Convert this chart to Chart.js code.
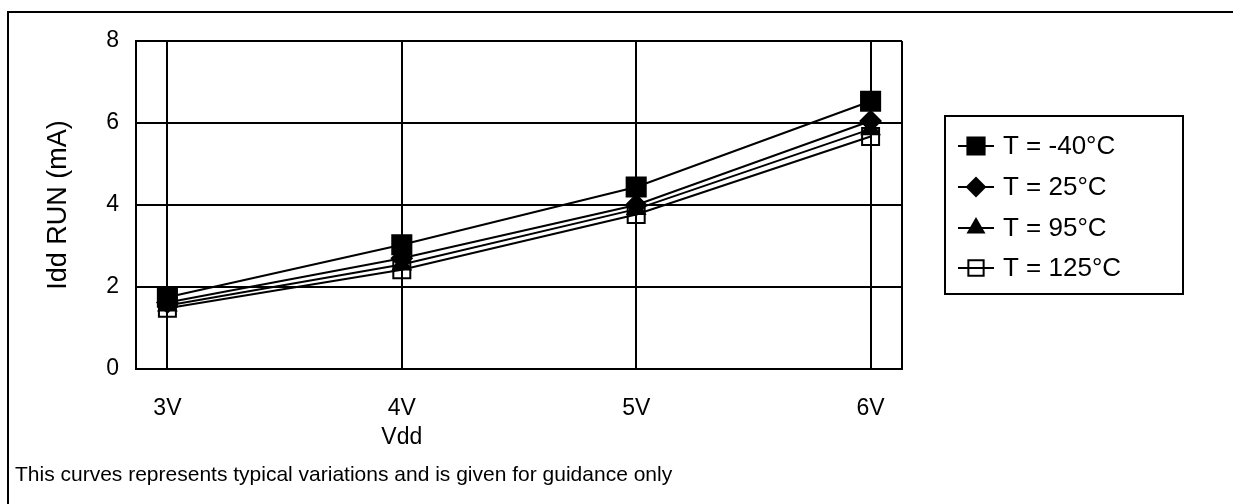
<!DOCTYPE html>
<html>
<head>
<meta charset="utf-8">
<script src="https://cdn.jsdelivr.net/npm/chart.js@4"></script>
<style>
  html, body { margin: 0; padding: 0; background: #fff; }
  #wrap { width: 1233px; height: 504px; }
</style>
</head>
<body>
<div id="wrap"><canvas id="c" width="1233" height="504"></canvas></div>
<script>
// Supply voltage categories and run current (mA) per temperature
const vdd = [3, 4, 5, 6];
const vddLabels = ['3V', '4V', '5V', '6V'];
const tempLabels = ['T = -40°C', 'T = 25°C', 'T = 95°C', 'T = 125°C'];
const iddM40 = [1.75, 3.03, 4.44, 6.53];
const idd25 = [1.62, 2.70, 4.00, 6.05];
const idd95 = [1.55, 2.55, 3.90, 5.85];
const idd125 = [1.48, 2.42, 3.77, 5.67];
const yTicks = [0, 2, 4, 6, 8];

const FONT = '"Liberation Sans", Arial, Helvetica, sans-serif';
const X_MIN = 2.866, X_MAX = 6.134;

function pts(vals) { return vdd.map((v, i) => ({ x: v, y: vals[i] })); }

const styles = [
  { pointStyle: 'rect', radius: 13.5, fill: '#000' },
  { pointStyle: 'rectRot', radius: 10, fill: '#000' },
  { pointStyle: 'triangle', radius: 10, fill: '#000' },
  { pointStyle: 'rect', radius: 12, fill: 'rgba(0,0,0,0)' }
];
const seriesVals = [iddM40, idd25, idd95, idd125];

const datasets = seriesVals.map((vals, i) => ({
  label: tempLabels[i],
  data: pts(vals),
  borderColor: '#000',
  borderWidth: 2,
  pointStyle: styles[i].pointStyle,
  pointRadius: styles[i].radius,
  pointBackgroundColor: styles[i].fill,
  pointBorderColor: '#000',
  pointBorderWidth: 2,
  tension: 0
}));

// Frame, axis caption, note and boxed legend
const decor = {
  id: 'decor',
  beforeDraw(chart) {
    const ctx = chart.ctx;
    ctx.save();
    ctx.fillStyle = '#fff';
    ctx.fillRect(0, 0, chart.width, chart.height);
    ctx.strokeStyle = '#000';
    ctx.lineWidth = 2;
    ctx.beginPath();
    ctx.moveTo(8, 504);
    ctx.lineTo(8, 12);
    ctx.lineTo(1233, 12);
    ctx.stroke();
    ctx.restore();
  },
  afterDraw(chart) {
    const ctx = chart.ctx;
    ctx.save();
    ctx.fillStyle = '#000';
    ctx.textBaseline = 'middle';
    ctx.font = '23px ' + FONT;
    ctx.textAlign = 'center';
    ctx.fillText('Vdd', chart.scales.x.getPixelForValue(4), 438);
    ctx.font = '21px ' + FONT;
    ctx.textAlign = 'left';
    ctx.fillText('This curves represents typical variations and is given for guidance only', 15, 475);

    // legend box
    const bx = 945, by = 116, bw = 238, bh = 178;
    ctx.lineWidth = 2;
    ctx.strokeStyle = '#000';
    ctx.strokeRect(bx, by, bw, bh);
    const rows = [146, 187, 228, 268];
    const drawPoint = Chart.helpers && Chart.helpers.drawPoint;
    chart.data.datasets.forEach((ds, i) => {
      const y = rows[i];
      ctx.beginPath();
      ctx.moveTo(958, y);
      ctx.lineTo(994, y);
      ctx.lineWidth = 2;
      ctx.stroke();
      if (drawPoint) {
        ctx.fillStyle = ds.pointBackgroundColor;
        ctx.strokeStyle = '#000';
        ctx.lineWidth = 2;
        drawPoint(ctx, { pointStyle: ds.pointStyle, radius: ds.pointRadius * 0.9, rotation: 0, borderWidth: 2 }, 976, y);
      }
      ctx.fillStyle = '#000';
      ctx.font = '26px ' + FONT;
      ctx.textAlign = 'left';
      ctx.fillText(ds.label, 1003, y + 1);
    });
    ctx.restore();
  }
};

new Chart(document.getElementById('c'), {
  type: 'line',
  data: { datasets },
  options: {
    responsive: false,
    animation: false,
    devicePixelRatio: 1,
    layout: { padding: { left: 0, right: 331, top: 41, bottom: 0 } },
    plugins: { legend: { display: false }, tooltip: { enabled: false } },
    scales: {
      x: {
        type: 'linear',
        min: X_MIN,
        max: X_MAX,
        afterFit(s) { s.height = 135; },
        afterBuildTicks(s) { s.ticks = [X_MIN, ...vdd, X_MAX].map(v => ({ value: v })); },
        grid: { color: '#000', lineWidth: 2, drawTicks: false },
        border: { color: '#000', width: 2 },
        ticks: {
          color: '#000',
          padding: 26,
          font: { family: FONT, size: 23 },
          autoSkip: false,
          maxRotation: 0,
          callback(v) { const k = vdd.indexOf(v); return k >= 0 ? vddLabels[k] : ''; }
        }
      },
      y: {
        min: 0,
        max: 8,
        afterFit(s) { s.width = 136; },
        afterBuildTicks(s) { s.ticks = yTicks.map(v => ({ value: v })); },
        grid: { color: '#000', lineWidth: 2, drawTicks: false },
        border: { color: '#000', width: 2 },
        ticks: { color: '#000', padding: 17, font: { family: FONT, size: 23 } },
        title: {
          display: true,
          text: 'Idd RUN (mA)',
          color: '#000',
          font: { family: FONT, size: 27 },
          padding: { top: 42, bottom: 0 }
        }
      }
    }
  },
  plugins: [decor]
});
</script>
</body>
</html>
